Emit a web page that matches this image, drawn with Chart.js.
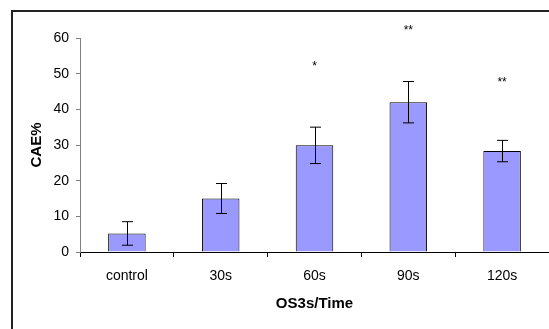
<!DOCTYPE html>
<html>
<head>
<meta charset="utf-8">
<script src="https://cdn.jsdelivr.net/npm/chart.js@4"></script>
<style>
  html, body { margin: 0; padding: 0; background: #fff; }
  #wrap { position: relative; width: 549px; height: 329px; }
  #frame { position: absolute; left: 11px; top: 10px; right: -2px; bottom: -2px; border-left: 2px solid #222; border-top: 2px solid #222; pointer-events: none; }
</style>
</head>
<body>
<div id="wrap">
  <canvas id="myChart" width="549" height="329"></canvas>
  <div id="frame"></div>
</div>
<script>
// chart data
const categories = ['control', '30s', '60s', '90s', '120s'];
const means = [5.2, 15.0, 29.9, 42.0, 28.3];
const errors = [3.3, 4.2, 5.1, 5.8, 3.0];
const stars = ['', '', '*', '**', '**'];
const starLevels = [null, null, 52.5, 62.5, 48.0];
const yTicks = [0, 10, 20, 30, 40, 50, 60];

// error bars + significance marks, drawn through the scales
const errorBarPlugin = {
  id: 'errorBars',
  afterDatasetsDraw(chart) {
    const ctx = chart.ctx;
    const y = chart.scales.y;
    const meta = chart.getDatasetMeta(0);
    ctx.save();
    ctx.strokeStyle = '#000';
    ctx.lineWidth = 1;
    meta.data.forEach((bar, i) => {
      const x = Math.round(bar.x) + 0.5;
      const top = y.getPixelForValue(means[i] + errors[i]);
      const bottom = y.getPixelForValue(means[i] - errors[i]);
      ctx.beginPath();
      ctx.moveTo(x, top);
      ctx.lineTo(x, bottom);
      ctx.moveTo(x - 5.5, top);
      ctx.lineTo(x + 5.5, top);
      ctx.moveTo(x - 5.5, bottom);
      ctx.lineTo(x + 5.5, bottom);
      ctx.stroke();

      if (stars[i]) {
        ctx.fillStyle = '#000';
        ctx.font = '12px "Liberation Sans", Arial, sans-serif';
        ctx.textAlign = 'center';
        ctx.textBaseline = 'middle';
        ctx.fillText(stars[i], bar.x, y.getPixelForValue(starLevels[i]) + 2);
      }
    });
    ctx.restore();
  }
};

const ctx = document.getElementById('myChart').getContext('2d');
new Chart(ctx, {
  type: 'bar',
  data: {
    labels: categories,
    datasets: [{
      data: means,
      backgroundColor: '#9999FF',
      borderColor: '#000',
      borderWidth: 1,
      barPercentage: 0.4,
      categoryPercentage: 1.0,
    }],
  },
  options: {
    responsive: false,
    animation: false,
    layout: { padding: { top: 38, right: 0, bottom: 0, left: 0 } },
    plugins: { legend: { display: false }, tooltip: { enabled: false } },
    scales: {
      x: {
        grid: { drawOnChartArea: false, tickLength: 5, color: '#000' },
        border: { color: '#000', width: 1 },
        ticks: { color: '#000', padding: 11, font: { family: '"Liberation Sans", Arial', size: 14 } },
        title: {
          display: true,
          text: 'OS3s/Time',
          color: '#000',
          font: { family: '"Liberation Sans", Arial', size: 15, weight: 'bold' },
          padding: { top: 0, bottom: 16 },
        },
        afterFit(scale) { scale.height = 77; },
      },
      y: {
        min: 0,
        max: 60,
        afterBuildTicks(scale) { scale.ticks = yTicks.map(v => ({ value: v })); },
        grid: { drawOnChartArea: false, tickLength: 4, color: '#808080' },
        border: { color: '#808080', width: 1 },
        ticks: { color: '#000', padding: 7, font: { family: '"Liberation Sans", Arial', size: 14 } },
        title: {
          display: true,
          text: 'CAE%',
          color: '#000',
          font: { family: '"Liberation Sans", Arial', size: 15, weight: 'bold' },
          padding: { top: 28, bottom: 0 },
        },
        afterFit(scale) { scale.width = 80; },
      },
    },
  },
  plugins: [errorBarPlugin],
});
</script>
</body>
</html>
